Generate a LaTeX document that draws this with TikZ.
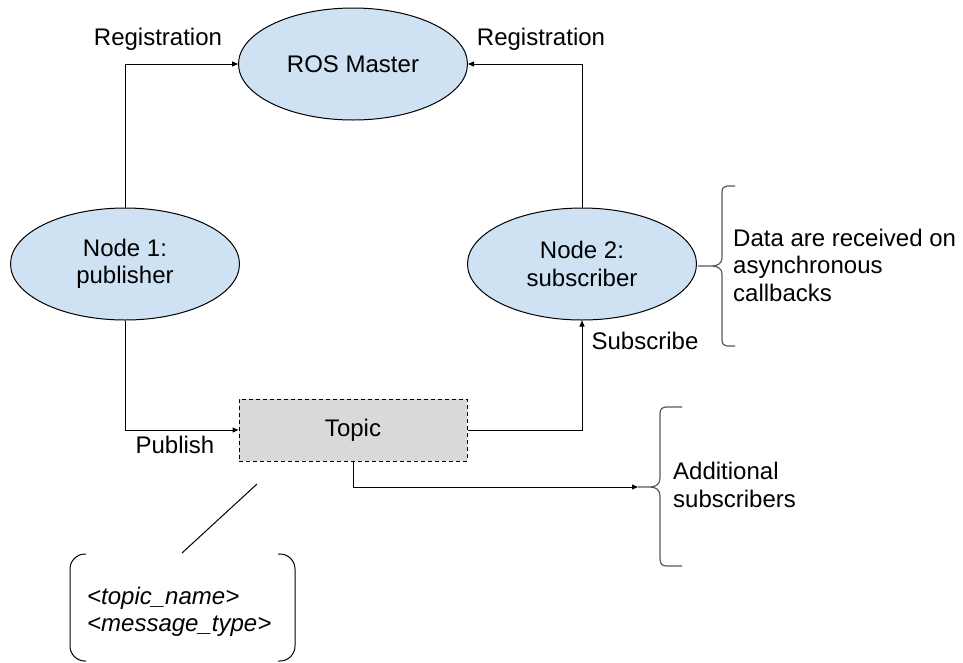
\documentclass[tikz,border=0pt]{standalone}
\usepackage{fontspec}
\setmainfont{Liberation Sans}
\usetikzlibrary{shapes.geometric,arrows.meta}
\definecolor{nodeblue}{HTML}{CFE2F3}
\definecolor{topicgray}{HTML}{D9D9D9}
\definecolor{bracegray}{HTML}{595959}
\begin{document}
\begin{tikzpicture}[x=1pt,y=-1pt,
  every node/.style={font=\fontsize{24}{27.5}\selectfont, inner sep=0pt},
  rosnode/.style={ellipse, draw=black, line width=1pt, fill=nodeblue,
    minimum width=229pt, minimum height=112pt, align=center},
  topicbox/.style={rectangle, draw=black, line width=1pt, dash pattern=on 4pt off 3pt,
    fill=topicgray, minimum width=228pt, minimum height=62pt},
  link/.style={draw=black, line width=1pt, -{Triangle[length=6pt,width=5pt]}},
  plainline/.style={draw=black, line width=1pt},
  bracket/.style={draw=bracegray, line width=1.2pt},
  note/.style={align=left, anchor=west}]
\useasboundingbox (0,0) rectangle (963,662);

% main nodes
\node[rosnode] (ros) at (353,64) {ROS Master};
\node[rosnode] (pub) at (125,264) {Node 1:\\publisher};
\node[rosnode] (sub) at (582,264) {Node 2:\\subscriber};
\node[topicbox] (topic) at (353,430) {Topic};

% connector labels
\node[anchor=base] (regl) at (158,45) {Registration};
\node[anchor=base] (regr) at (541,45) {Registration};
\node[anchor=base] (publ) at (175,453) {Publish};
\node[anchor=base] (subl) at (645,349) {Subscribe};

% connectors
\draw[link] (pub.north) |- (ros.west);
\draw[link] (sub.north) |- (ros.east);
\draw[link] (pub.south) |- (topic.west);
\draw[link] (topic.east) -| (sub.south);
\coordinate (b1tip) at (638,487);
\draw[link] (topic.south) |- (b1tip);

% brace beside the subscriber
\coordinate (b2tip) at (698,266);
\draw[bracket] (735,186) -- (727,186) .. controls (724,186) and (722,188) .. (722,192)
  -- (722,258) .. controls (722,263) and (718,266) .. (712,266) -- (b2tip)
  -- (712,266) .. controls (718,266) and (722,269) .. (722,274)
  -- (722,340) .. controls (722,344) and (724,346) .. (727,346) -- (735,346);
\node[note] (datanote) at (733,265) {Data are received on\\asynchronous\\callbacks};

% brace for further subscribers
\draw[bracket] (682,407) -- (667,407) .. controls (662,407) and (660,409) .. (660,414)
  -- (660,478) .. controls (660,484) and (656,487) .. (650,487) -- (b1tip)
  -- (650,487) .. controls (656,487) and (660,490) .. (660,496)
  -- (660,558) .. controls (660,564) and (662,566) .. (667,566) -- (682,566);
\node[note] (addnote) at (673,485) {Additional\\subscribers};

% topic annotation
\coordinate (calloutA) at (182,553);
\coordinate (calloutB) at (257,484);
\draw[plainline] (calloutA) -- (calloutB);
\draw[plainline, rounded corners=15pt] (86,554) -- (70,554) -- (70,661) -- (86,661);
\draw[plainline, rounded corners=15pt] (278,554) -- (295,554) -- (295,661) -- (278,661);
\node[note] (msg) at (87,612) {\itshape <topic\_name>\\\itshape <message\_type>};
\end{tikzpicture}
\end{document}
